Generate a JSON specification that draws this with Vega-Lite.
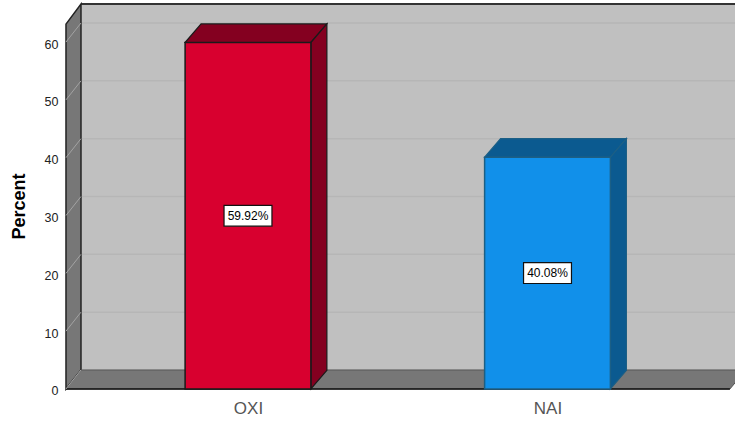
{
"$schema":"https://vega.github.io/schema/vega-lite/v6.json",
"width":735,"height":421,"padding":0,"autosize":{"type":"none"},
"background":"white",
"config":{"view":{"stroke":null},"font":"Liberation Sans"},
"datasets":{
"bars":[{"category":"OXI","position":1,"percent":59.92},{"category":"NAI","position":2,"percent":40.08}],
"ticks":[{"tick":0},{"tick":10},{"tick":20},{"tick":30},{"tick":40},{"tick":50},{"tick":60}]
},
"encoding":{
"x":{"field":"x","type":"quantitative","title":null,"scale":{"domain":[0.172,2.626],"range":[0,735],"nice":false,"zero":false},
"axis":{"orient":"bottom","offset":-32,"values":[1,2],"labelExpr":"datum.value==1?'OXI':'NAI'","domain":false,"ticks":false,"grid":false,"labelFontSize":17,"labelColor":"#555","labelPadding":11,"labelFont":"Liberation Sans"}},
"y":{"field":"y","type":"quantitative","title":"Percent","scale":{"domain":[-5.534,67.27],"range":[421,0],"nice":false,"zero":false},
"axis":{"orient":"left","offset":-66,"values":[0,10,20,30,40,50,60],"format":"d","domain":false,"ticks":false,"grid":false,"labelFontSize":12.5,"labelColor":"#222","labelPadding":8,"labelOffset":2,"titleFontSize":18,"titleFontWeight":"bold","titleColor":"#000","titleX":-38,"titleY":206,"titleFont":"Liberation Sans"}}
},
"layer":[
{"data":{"values":[{"x":0.4424,"x2":2.7,"y":3.29,"y2":66.57}]},"mark":{"type":"rect","fill":"#c0c0c0","clip":true},"encoding":{"x2":{"field":"x2"},"y2":{"field":"y2"}}},
{"data":{"name":"ticks"},"transform":[{"filter":"datum.tick>0"},{"calculate":"datum.tick+3.29","as":"y"},{"calculate":"0.4424","as":"x"},{"calculate":"2.7","as":"x2"}],"mark":{"type":"rule","stroke":"#b6b6b6","strokeWidth":1.5,"clip":true},"encoding":{"x2":{"field":"x2"}}},
{"data":{"values":[{"x":0.4424,"x2":2.7,"y":66.57}]},"mark":{"type":"rule","stroke":"#333","strokeWidth":2,"clip":true},"encoding":{"x2":{"field":"x2"}}},
{"data":{"values":[{"x":0.3923,"y":63.1,"y2":0},{"x":0.4424,"y":66.57,"y2":3.29}]},"mark":{"type":"area","fill":"#777777","stroke":"#222","strokeWidth":1.5},"encoding":{"y2":{"field":"y2"}}},
{"data":{"values":[{"x":0.3923,"y":0,"y2":0},{"x":0.4424,"y":3.29,"y2":0},{"x":2.609,"y":3.29,"y2":0},{"x":2.662,"y":3.29,"y2":3.29}]},"mark":{"type":"area","fill":"#777777","stroke":"#555","strokeWidth":1,"clip":true},"encoding":{"y2":{"field":"y2"}}},
{"data":{"values":[{"x":0.3923,"x2":2.609,"y":0}]},"mark":{"type":"rule","stroke":"#111","strokeWidth":1.5},"encoding":{"x2":{"field":"x2"}}},
{"data":{"name":"ticks"},"transform":[{"calculate":"datum.tick","as":"y"},{"calculate":"datum.tick+3.29","as":"y2"},{"calculate":"0.3923","as":"x"},{"calculate":"0.4424","as":"x2"}],"mark":{"type":"rule","stroke":"#a3a3a3","strokeWidth":1},"encoding":{"x2":{"field":"x2"},"y2":{"field":"y2"}}},
{"data":{"name":"bars"},"transform":[
{"calculate":"[datum.position-0.21,datum.position-0.1566,datum.position+0.21,datum.position+0.2634]","as":"x"},
{"calculate":"[datum.percent,datum.percent+3.22,datum.percent+3.22,datum.percent+3.22]","as":"y"},
{"calculate":"[datum.percent,datum.percent,datum.percent,datum.percent+3.22]","as":"y2"},
{"flatten":["x","y","y2"]},
{"calculate":"datum.category+' shade'","as":"face"}],
"mark":{"type":"area","strokeWidth":1.2},
"encoding":{"y2":{"field":"y2"},
"fill":{"field":"face","type":"nominal","legend":null,"scale":{"domain":["OXI","NAI","OXI shade","NAI shade"],"range":["#d8002f","#1190ea","#840020","#0b5a90"]}},
"stroke":{"field":"category","type":"nominal","legend":null,"scale":{"domain":["OXI","NAI"],"range":["#1a1a1a","#1c5f85"]}}}},
{"data":{"name":"bars"},"transform":[
{"calculate":"[datum.position+0.21,datum.position+0.2634]","as":"x"},
{"calculate":"[datum.percent,datum.percent+3.22]","as":"y"},
{"calculate":"[0,3.22]","as":"y2"},
{"flatten":["x","y","y2"]},
{"calculate":"datum.category+' shade'","as":"face"}],
"mark":{"type":"area","strokeWidth":1.2},
"encoding":{"y2":{"field":"y2"},
"fill":{"field":"face","type":"nominal","legend":null},
"stroke":{"field":"category","type":"nominal","legend":null}}},
{"data":{"name":"bars"},"transform":[
{"calculate":"datum.position-0.21","as":"x"},{"calculate":"datum.position+0.21","as":"x2"},
{"calculate":"datum.percent","as":"y"},{"calculate":"0","as":"y2"},{"calculate":"datum.category","as":"face"}],
"mark":{"type":"rect","strokeWidth":1.5},
"encoding":{"x2":{"field":"x2"},"y2":{"field":"y2"},
"fill":{"field":"face","type":"nominal","legend":null},
"stroke":{"field":"category","type":"nominal","legend":null}}},
{"data":{"name":"bars"},"transform":[
{"calculate":"datum.position-0.08","as":"x"},{"calculate":"datum.position+0.08","as":"x2"},
{"calculate":"datum.percent/2-1.8","as":"y"},{"calculate":"datum.percent/2+1.8","as":"y2"}],
"mark":{"type":"rect","fill":"white","stroke":"#111","strokeWidth":1.2},
"encoding":{"x2":{"field":"x2"},"y2":{"field":"y2"}}},
{"data":{"name":"bars"},"transform":[
{"calculate":"datum.position","as":"x"},{"calculate":"datum.percent/2","as":"y"},{"calculate":"format(datum.percent,'.2f')+'%'","as":"label"}],
"mark":{"type":"text","fontSize":12,"color":"#000","align":"center","baseline":"middle"},
"encoding":{"text":{"field":"label","type":"nominal"}}}
]
}
